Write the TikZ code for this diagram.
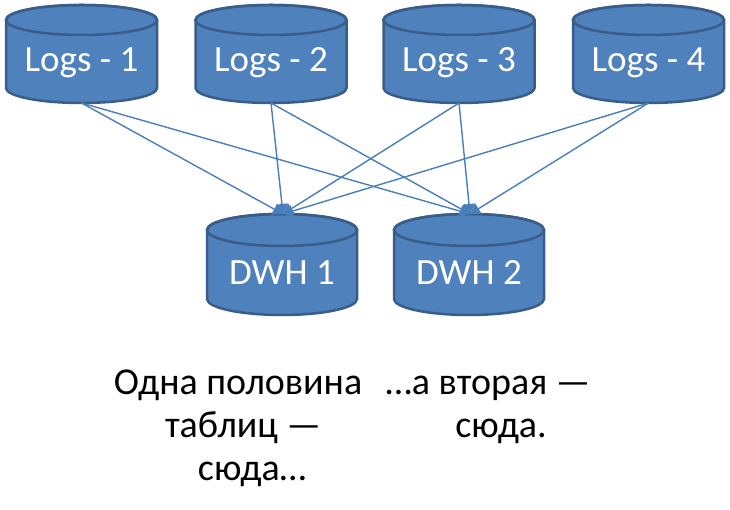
\documentclass[tikz,border=0pt]{standalone}
\usepackage{fontspec}
\setmainfont{Carlito}
\usetikzlibrary{arrows.meta}
\definecolor{cylfill}{HTML}{4F81BD}
\definecolor{cylline}{HTML}{385D8A}
\definecolor{connc}{HTML}{4A7EBB}
% cx, top Y, bottom Y, half width, y radius
\newcommand{\mycyl}[5]{%
  \filldraw[cyl] (#1-#4,#2-#5) -- (#1-#4,#3+#5)
    arc[start angle=180,end angle=360,x radius=#4pt,y radius=#5pt]
    -- (#1+#4,#2-#5)
    arc[start angle=0,end angle=180,x radius=#4pt,y radius=#5pt] -- cycle;
  \draw[cyl,fill=none] (#1,#2-#5) ellipse[x radius=#4pt,y radius=#5pt];
}
\begin{document}
\begin{tikzpicture}[x=1pt,y=1pt,
  cyl/.style={fill=cylfill,draw=cylline,line width=2.5pt},
  cyltext/.style={text=white,font=\fontsize{37}{43}\selectfont,anchor=base,inner sep=0pt},
  captext/.style={text=black,font=\fontsize{38}{43}\selectfont,anchor=base,inner sep=0pt},
  conn/.style={draw=connc,line width=1.4pt,-{Triangle[length=10pt,width=12pt]}}]
\useasboundingbox (0,0) rectangle (730,510);
% top cylinders
\mycyl{81.5}{505}{407}{75.5}{15}
\mycyl{271}{505}{407}{75.5}{15}
\mycyl{459}{505}{407}{75.5}{15}
\mycyl{648.5}{505}{407}{75.5}{15}
\node[cyltext] (l1) at (81.5,438) {Logs - 1};
\node[cyltext] (l2) at (271,438) {Logs - 2};
\node[cyltext] (l3) at (459,438) {Logs - 3};
\node[cyltext] (l4) at (648.5,438) {Logs - 4};
\coordinate (l1b) at (81.5,407);
\coordinate (l2b) at (271,407);
\coordinate (l3b) at (459,407);
\coordinate (l4b) at (648.5,407);
% bottom cylinders
\mycyl{282}{296}{195}{75}{16}
\mycyl{469}{296}{195}{75}{16}
\node[cyltext] (d1) at (282,225) {DWH 1};
\node[cyltext] (d2) at (469,225) {DWH 2};
\coordinate (d1t) at (283,296);
\coordinate (d2t) at (470,296);
% connectors
\foreach \s in {l1b,l2b,l3b,l4b}{
  \draw[conn] (\s) -- (d1t);
  \draw[conn] (\s) -- (d2t);
}
% captions
\node[captext] (t1a) at (238,115) {Одна половина};
\node[captext] (t1b) at (243,72) {таблиц —};
\node[captext] (t1c) at (252,29) {сюда…};
\node[captext] (t2a) at (488,115) {…а вторая —};
\node[captext] (t2b) at (501,72) {сюда.};
\end{tikzpicture}
\end{document}
